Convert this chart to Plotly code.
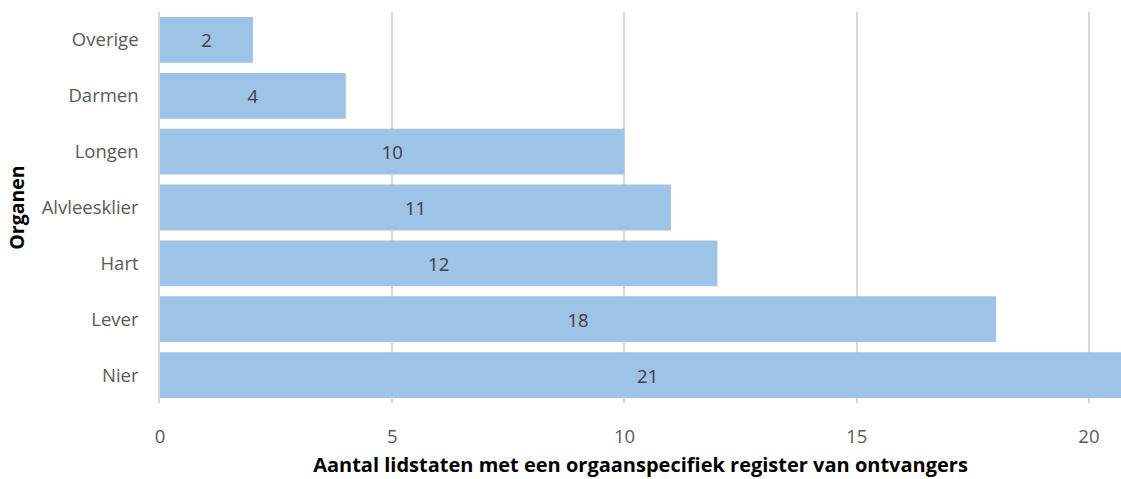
import plotly.graph_objects as go

categories = ["Nier", "Lever", "Hart", "Alvleesklier", "Longen", "Darmen", "Overige"]
values = [21, 18, 12, 11, 10, 4, 2]
x_ticks = [0, 5, 10, 15, 20]

FONT = "Open Sans"

fig = go.Figure(go.Bar(
    y=categories,
    x=values,
    orientation="h",
    marker=dict(color="#9DC3E6", line=dict(width=0)),
    width=0.82,
    text=[str(v) for v in values],
    textposition="inside",
    insidetextanchor="middle",
    textangle=0,
    textfont=dict(family=FONT, size=18.5, color="#404040"),
))

fig.update_layout(
    width=1121,
    height=479,
    margin=dict(l=160, r=0, t=12, b=76),
    paper_bgcolor="white",
    plot_bgcolor="white",
    showlegend=False,
    font=dict(family=FONT, size=18.5, color="#595959"),
    xaxis=dict(
        range=[0, 20.69],
        tickvals=x_ticks,
        showgrid=True,
        gridcolor="#D9D9D9",
        gridwidth=1.5,
        zeroline=False,
        showline=False,
        ticks="",
        ticklabelstandoff=20,
        tickfont=dict(family=FONT, size=18.5, color="#595959"),
        title=dict(
            text="<b>Aantal lidstaten met een orgaanspecifiek register van ontvangers</b>",
            font=dict(family=FONT, size=20, color="black"),
            standoff=11,
        ),
    ),
    yaxis=dict(
        categoryorder="array",
        categoryarray=categories,
        showgrid=False,
        showline=True,
        linecolor="#D9D9D9",
        linewidth=1.5,
        ticks="",
        ticklabelstandoff=16,
        tickfont=dict(family=FONT, size=18.5, color="#595959"),
        title=dict(
            text="<b>Organen</b>",
            font=dict(family=FONT, size=19.5, color="black"),
            standoff=12,
        ),
    ),
)

fig.write_html(
    "out.html",
    config={"displayModeBar": False},
    post_script="document.body.style.margin='0';document.body.style.overflow='hidden';",
)
